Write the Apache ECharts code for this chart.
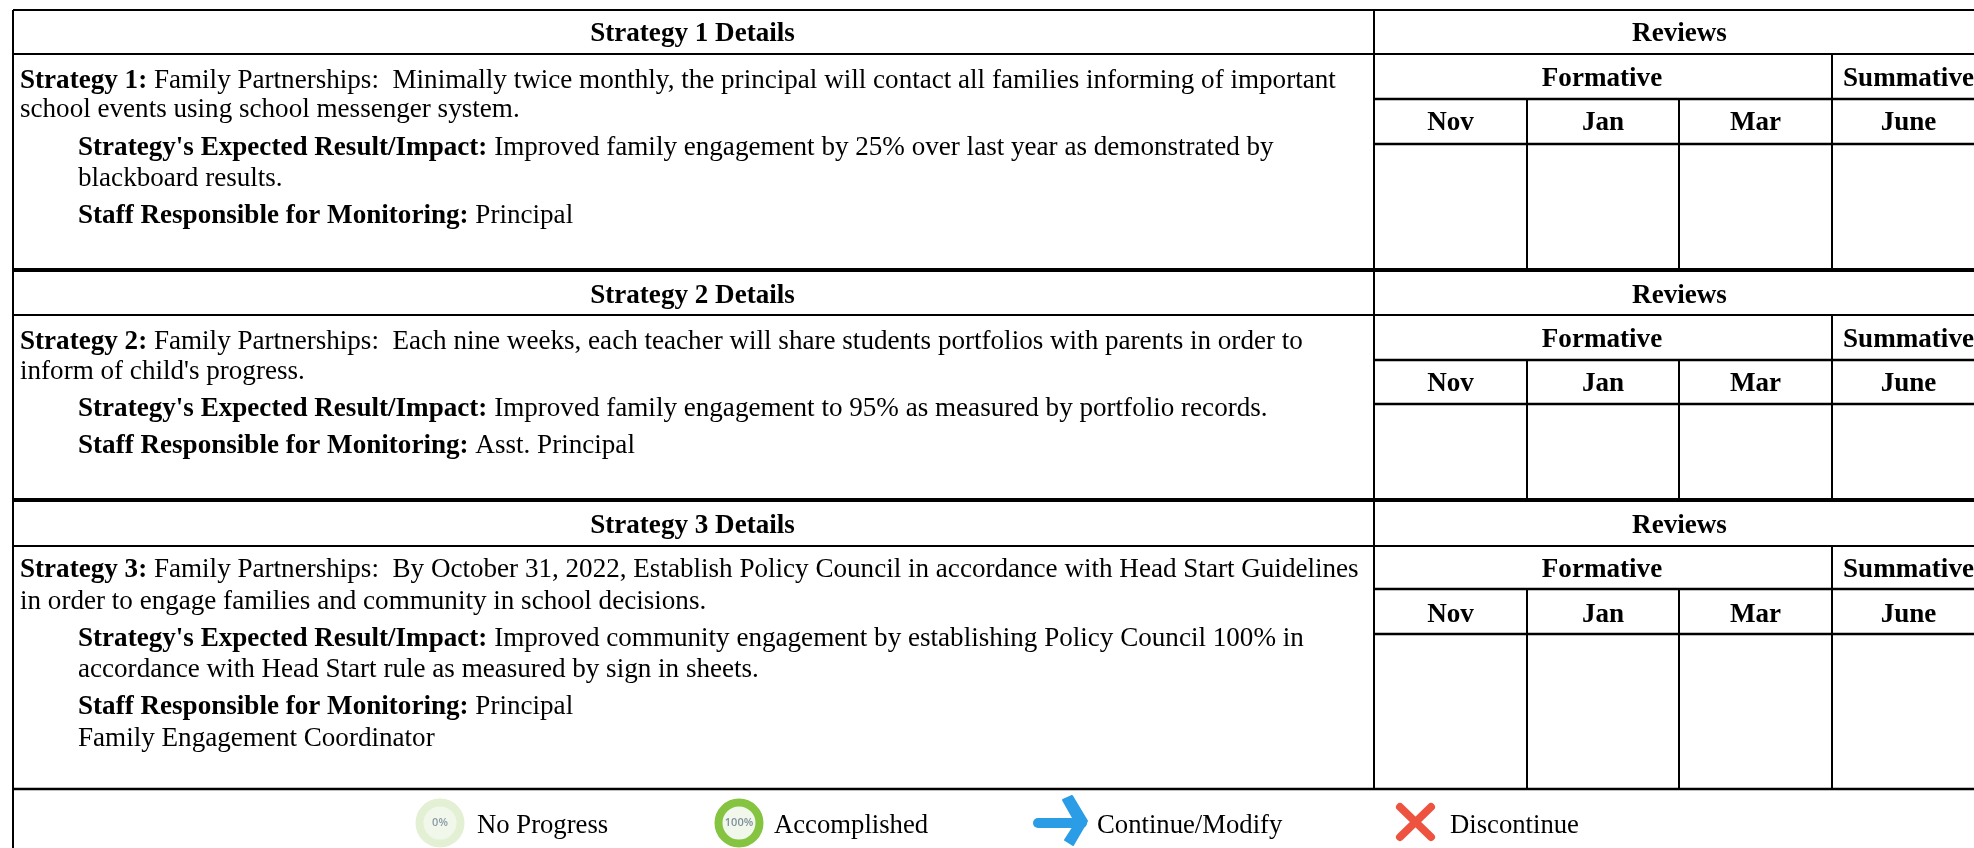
<!DOCTYPE html>
<html><head><meta charset="utf-8">
<style>html,body{margin:0;padding:0;background:#fff}#c{width:1974px;height:848px}</style>
<script src="https://cdn.jsdelivr.net/npm/echarts@6/dist/echarts.min.js"></script>
</head><body><div id="c"></div>
<script>
var detailTitles = ['Strategy 1 Details','Strategy 2 Details','Strategy 3 Details'];
var reviewsTitle = 'Reviews';
var groupTitles = ['Formative','Summative'];
var months = ['Nov','Jan','Mar','June'];
var strategy1Lines = [
 ['Strategy 1:',' Family Partnerships:  Minimally twice monthly, the principal will contact all families informing of important'],
 ['','school events using school messenger system.'],
 ["Strategy's Expected Result/Impact:",' Improved family engagement by 25% over last year as demonstrated by'],
 ['','blackboard results.'],
 ['Staff Responsible for Monitoring:',' Principal']];
var strategy2Lines = [
 ['Strategy 2:'," Family Partnerships:  Each nine weeks, each teacher will share students portfolios with parents in order to"],
 ['',"inform of child's progress."],
 ["Strategy's Expected Result/Impact:",' Improved family engagement to 95% as measured by portfolio records.'],
 ['Staff Responsible for Monitoring:',' Asst. Principal']];
var strategy3Lines = [
 ['Strategy 3:',' Family Partnerships:  By October 31, 2022, Establish Policy Council in accordance with Head Start Guidelines'],
 ['','in order to engage families and community in school decisions.'],
 ["Strategy's Expected Result/Impact:",' Improved community engagement by establishing Policy Council 100% in'],
 ['','accordance with Head Start rule as measured by sign in sheets.'],
 ['Staff Responsible for Monitoring:',' Principal'],
 ['','Family Engagement Coordinator']];
var legendLabels = ['No Progress','Accomplished','Continue/Modify','Discontinue'];
var ringLabels = ['0%','100%'];

// layout
var FONT = '"Liberation Serif","Times New Roman",serif';
var FS = 27.1;
var L = 13, R = 1974, B = 848, VR = 1985; // VR: table's right edge, beyond the picture
var VX = [1374, 1527, 1679, 1832];
var blocks = [
 {top:10, sep:54, form:99, mon:144, bot:270, head:34, formY:79, monY:123, lineY:[81,110,148,179,216], indent:[0,0,1,1,1], lines:strategy1Lines},
 {top:270, sep:315, form:360, mon:404, bot:500, head:296, formY:340, monY:384, lineY:[342,372,409,446], indent:[0,0,1,1], lines:strategy2Lines},
 {top:500, sep:546, form:589, mon:634, bot:789, head:526, formY:570, monY:615, lineY:[570,602,639,670,707,739], indent:[0,0,1,1,1,1], lines:strategy3Lines}
];
var g = [];
function line(x1,y1,x2,y2,w){ g.push({type:'line',silent:true,z:5,shape:{x1:x1,y1:y1,x2:x2,y2:y2},style:{stroke:'#000',lineWidth:w}}); }
function bold(t,x,y,align){ g.push({type:'text',z:10,x:x,y:y,style:{text:t,x:0,y:0,align:align||'center',verticalAlign:'middle',font:'bold '+FS+'px '+FONT,fill:'#000'}}); }
function rich(seg,x,y){
  var t=(seg[0]?'{b|'+seg[0]+'}':'')+'{n|'+seg[1]+'}';
  g.push({type:'text',z:10,x:x,y:y,style:{text:t,align:'left',verticalAlign:'middle',
    rich:{b:{font:'bold '+FS+'px '+FONT,fill:'#000'},n:{font:FS+'px '+FONT,fill:'#000'}}}});
}
blocks.forEach(function(b,i){
  line(L,b.sep,VX[0],b.sep,2);
  line(VX[0],b.sep,R,b.sep,2);
  line(VX[0],b.form,R,b.form,2.5);
  line(VX[0],b.mon,R,b.mon,2.5);
  line(VX[0],b.top,VX[0],b.bot,2);
  line(VX[3],b.sep,VX[3],b.bot,2);
  line(VX[1],b.form,VX[1],b.bot,2);
  line(VX[2],b.form,VX[2],b.bot,2);
  bold(detailTitles[i],(L+VX[0])/2-1,b.head);
  bold(reviewsTitle,(VX[0]+VR)/2,b.head);
  bold(groupTitles[0],(VX[0]+VX[3])/2-1,b.formY);
  bold(groupTitles[1],(VX[3]+VR)/2,b.formY);
  var edges=VX.concat([VR]);
  months.forEach(function(m,k){ bold(m,(edges[k]+edges[k+1])/2,b.monY); });
  b.lines.forEach(function(s,k){ rich(s,b.indent[k]?78:20,b.lineY[k]); });
});
line(L,10,R,10,2);
line(L,10,L,B,2);
line(L,270,R,270,4);
line(L,500,R,500,4);
line(L,789,R,789,2.5);

// legend
function ring(cx,cy,col,label,fs,txt){
  g.push({type:'circle',z:6,shape:{cx:cx,cy:cy,r:20.5},style:{fill:'#f2f7ec',stroke:col,lineWidth:8}});
  g.push({type:'text',z:7,x:cx,y:cy,style:{text:label,align:'center',verticalAlign:'middle',font:'600 '+fs+'px "Open Sans",sans-serif',fill:txt}});
}
ring(440,823,'#e3f0d4',ringLabels[0],11,'#8a9aa5');
ring(739,823,'#84c441',ringLabels[1],11,'#7f8f9b');
// arrow
g.push({type:'polyline',z:6,shape:{points:[[1038,823],[1082,823]]},style:{stroke:'#2b9ce6',lineWidth:10,lineCap:'round'}});
g.push({type:'polygon',z:6,shape:{points:[[1063,800],[1072,796],[1087,821],[1073,845],[1065,840],[1076,823]]},style:{fill:'#2b9ce6',stroke:'#2b9ce6',lineWidth:2,lineJoin:'round'}});
// cross
g.push({type:'line',z:6,shape:{x1:1400,y1:807,x2:1431,y2:837},style:{stroke:'#ee5340',lineWidth:8,lineCap:'round'}});
g.push({type:'line',z:6,shape:{x1:1431,y1:807,x2:1400,y2:837},style:{stroke:'#ee5340',lineWidth:8,lineCap:'round'}});
var lx=[477,774,1097,1450];
legendLabels.forEach(function(t,i){
  g.push({type:'text',z:10,x:lx[i],y:825.5,style:{text:t,align:'left',verticalAlign:'middle',font:'26.7px '+FONT,fill:'#000'}});
});
var chart = echarts.init(document.getElementById('c'),null,{renderer:'canvas'});
chart.setOption({backgroundColor:'#fff',animation:false,graphic:{elements:g}});
</script></body></html>
